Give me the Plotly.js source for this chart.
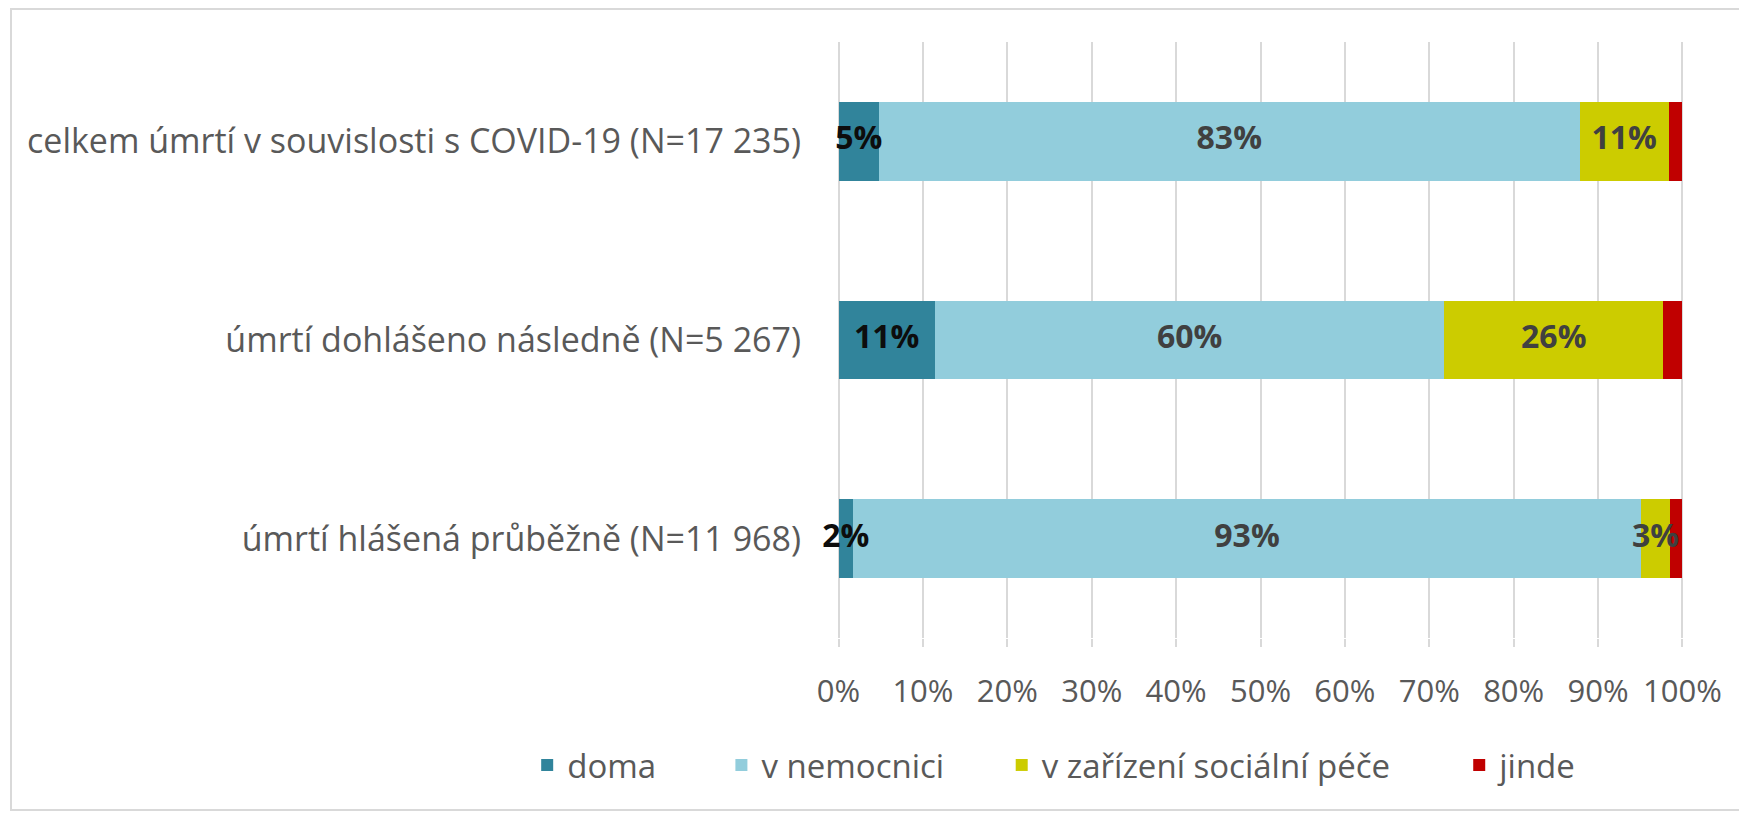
<!DOCTYPE html>
<html>
<head>
<meta charset="utf-8">
<script src="https://cdn.plot.ly/plotly-3.0.1.min.js"></script>
<style>
  html, body { margin: 0; padding: 0; background: #fff; }
  #wrap { position: relative; width: 1739px; height: 815px; overflow: hidden; }
  #frame { position: absolute; left: 10px; top: 8px; width: 1760px; height: 803px; border: 2px solid #d9d9d9; box-sizing: border-box; pointer-events: none; }
  #chart { position: absolute; left: 0; top: 0; width: 1739px; height: 815px; }
</style>
</head>
<body>
<div id="wrap">
  <div id="chart"></div>
  <div id="frame"></div>
</div>
<script>
// ---- data ----
const categories = [
  "celkem úmrtí v souvislosti s COVID-19 (N=17 235)",
  "úmrtí dohlášeno následně (N=5 267)",
  "úmrtí hlášená průběžně (N=11 968)"
];
const seriesNames = ["doma", "v nemocnici", "v zařízení sociální péče", "jinde"];
const doma        = [4.8, 11.4, 1.7];
const vNemocnici  = [83.0, 60.4, 93.4];
const vZarizeni   = [10.6, 25.9, 3.4];
const jinde       = [1.6, 2.3, 1.5];
const tickVals    = [0, 10, 20, 30, 40, 50, 60, 70, 80, 90, 100];
const tickText    = ["0%", "10%", "20%", "30%", "40%", "50%", "60%", "70%", "80%", "90%", "100%"];

// ---- styling ----
const FONT = "'Open Sans', Lato, sans-serif";
const colors = ["#31849B", "#92CDDC", "#CCCC00", "#C00000"];
const labelColors = ["#0d0d0d", "#404040", "#404040", "#404040"];
const showLabels = [true, true, true, false];
const values = [doma, vNemocnici, vZarizeni, jinde];

const W = 1739, H = 815;
const X0 = 839, X100 = 1682;          // pixel position of 0% and 100%
const pad = 0.3;                        // small range padding so edge gridlines are drawn
const unit = (X100 - X0) / 100;
const M = { l: X0 - pad * unit, r: (W - X100) - pad * unit, t: 42, b: 177 };
const plotW = W - M.l - M.r;
const plotH = H - M.t - M.b;
const px2x = px => (px - M.l) / plotW;
const px2y = py => 1 - (py - M.t) / plotH;

// legend text starting positions (px)
const legendTextX = [568, 762, 1042, 1499];
const legendY = 765;

const traces = values.map((v, i) => ({
  type: "bar",
  orientation: "h",
  name: seriesNames[i],
  y: categories,
  x: v,
  marker: { color: colors[i], line: { width: 0 } },
  hoverinfo: "skip",
  legend: i === 0 ? "legend" : "legend" + (i + 1),
}));

// data labels drawn on top of all bars, centred on each segment
const lblX = [], lblY = [], lblT = [], lblC = [];
categories.forEach((c, j) => {
  let cum = 0;
  values.forEach((v, i) => {
    if (showLabels[i]) {
      lblX.push(cum + v[j] / 2);
      lblY.push(c);
      lblT.push(Math.round(v[j]) + "%");
      lblC.push(labelColors[i]);
    }
    cum += v[j];
  });
});
traces.push({
  type: "scatter",
  mode: "text",
  x: lblX,
  y: lblY,
  text: lblT,
  textposition: "middle center",
  textfont: { family: FONT, size: 32, color: lblC, weight: "bold" },
  cliponaxis: false,
  showlegend: false,
  hoverinfo: "skip",
});

const legendBase = {
  orientation: "h",
  xanchor: "left",
  yanchor: "middle",
  bgcolor: "rgba(0,0,0,0)",
  borderwidth: 0,
  font: { family: FONT, size: 33, color: "#595959" },
  itemclick: false,
  itemdoubleclick: false,
};

const layout = {
  width: W,
  height: H,
  margin: M,
  paper_bgcolor: "rgba(0,0,0,0)",
  plot_bgcolor: "rgba(0,0,0,0)",
  barmode: "stack",
  bargap: 0.603,
  font: { family: FONT, color: "#595959" },
  xaxis: {
    range: [-pad, 100 + pad],
    tickvals: tickVals,
    ticktext: tickText,
    showgrid: true,
    gridcolor: "#d9d9d9",
    gridwidth: 2,
    zeroline: false,
    showline: false,
    ticks: "outside",
    ticklen: 8,
    tickwidth: 2,
    tickcolor: "#d9d9d9",
    ticklabelstandoff: 18,
    tickfont: { family: FONT, size: 31, color: "#595959" },
    fixedrange: true,
  },
  yaxis: {
    type: "category",
    categoryorder: "array",
    categoryarray: categories,
    autorange: "reversed",
    showgrid: false,
    zeroline: false,
    showline: false,
    ticks: "",
    ticklabelstandoff: 34,
    tickfont: { family: FONT, size: 34, color: "#595959" },
    fixedrange: true,
  },
  showlegend: true,
  legend:  Object.assign({}, legendBase, { x: px2x(legendTextX[0] - 40), y: px2y(legendY) }),
  legend2: Object.assign({}, legendBase, { x: px2x(legendTextX[1] - 40), y: px2y(legendY) }),
  legend3: Object.assign({}, legendBase, { x: px2x(legendTextX[2] - 40), y: px2y(legendY) }),
  legend4: Object.assign({}, legendBase, { x: px2x(legendTextX[3] - 40), y: px2y(legendY) }),
};

Plotly.newPlot("chart", traces, layout, { displayModeBar: false, staticPlot: true });
</script>
</body>
</html>
